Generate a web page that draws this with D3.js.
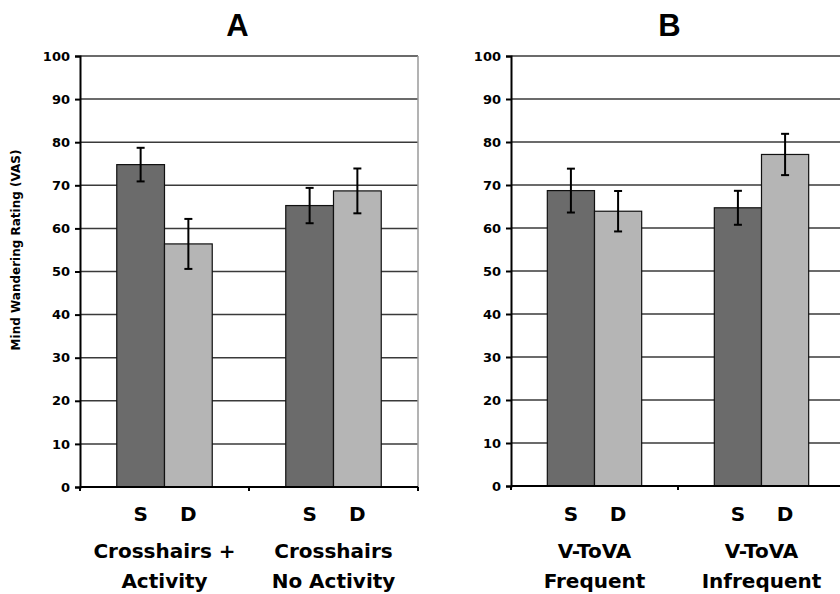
<!DOCTYPE html>
<html>
<head>
<meta charset="utf-8">
<script src="https://cdn.jsdelivr.net/npm/d3@7"></script>
<style>
  body { margin: 0; background: #fff; }
  svg { display: block; font-family: "DejaVu Sans", Arial, sans-serif; }
</style>
</head>
<body>
<svg id="chart" width="840" height="594"></svg>
<script>
// data
const groups = ["S", "D"]
const yTicks = [0, 10, 20, 30, 40, 50, 60, 70, 80, 90, 100]

const labelsA = [["Crosshairs +", "Activity"], ["Crosshairs", "No Activity"]]
const meanA_S = [74.8, 65.3]
const meanA_D = [56.4, 68.7]
const errA_S = [3.9, 4.1]
const errA_D = [5.8, 5.2]

const labelsB = [["V-ToVA", "Frequent"], ["V-ToVA", "Infrequent"]]
const meanB_S = [68.7, 64.7]
const meanB_D = [63.9, 77.1]
const errB_S = [5.1, 3.95]
const errB_D = [4.7, 4.8]

const colors = { S: "#6b6b6b", D: "#b5b5b5" }
const font = "DejaVu Sans, Arial, sans-serif"

const svg = d3.select("#chart")

function drawPanel(opts) {
    const g = svg.append("g")
    const y = d3.scaleLinear().domain([0, 100]).range([opts.bottom, 56])
    const keys = opts.labels.map((d, i) => i)
    const x0 = d3.scaleBand().domain(keys).range([opts.left, opts.right])
    const x1 = d3.scaleBand().domain(groups).range([0, x0.bandwidth()]).paddingOuter(0.77)

    // gridlines
    g.append("g")
        .selectAll("line")
        .data(yTicks.filter(t => t > 0))
        .join("line")
        .attr("x1", opts.left).attr("x2", opts.right)
        .attr("y1", d => y(d)).attr("y2", d => y(d))
        .attr("stroke", "#3a3a3a")
        .attr("stroke-width", 1.5)

    // right border of plot
    g.append("line")
        .attr("x1", opts.right).attr("x2", opts.right)
        .attr("y1", y(100)).attr("y2", y(0))
        .attr("stroke", "#9a9a9a").attr("stroke-width", 1.5)

    const rows = keys.map(i => ({
        i: i,
        vals: [
            { k: "S", v: opts.s[i], e: opts.es[i] },
            { k: "D", v: opts.d[i], e: opts.ed[i] }
        ]
    }))

    const grp = g.selectAll("g.grp")
        .data(rows)
        .join("g")
        .attr("class", "grp")
        .attr("transform", d => `translate(${x0(d.i)},0)`)

    grp.selectAll("rect")
        .data(d => d.vals)
        .join("rect")
        .attr("x", d => x1(d.k))
        .attr("y", d => y(d.v))
        .attr("width", x1.bandwidth())
        .attr("height", d => y(0) - y(d.v))
        .attr("fill", d => colors[d.k])
        .attr("stroke", "#111")
        .attr("stroke-width", 1.2)

    // error bars
    const eb = grp.selectAll("g.err")
        .data(d => d.vals)
        .join("g")
        .attr("class", "err")
        .attr("stroke", "#000")
        .attr("stroke-width", 2)
    eb.append("line")
        .attr("x1", d => x1(d.k) + x1.bandwidth() / 2)
        .attr("x2", d => x1(d.k) + x1.bandwidth() / 2)
        .attr("y1", d => y(d.v + d.e))
        .attr("y2", d => y(d.v - d.e))
    eb.selectAll("line.cap")
        .data(d => [d.v + d.e, d.v - d.e].map(v => ({ k: d.k, v: v })))
        .join("line")
        .attr("class", "cap")
        .attr("x1", d => x1(d.k) + x1.bandwidth() / 2 - 4)
        .attr("x2", d => x1(d.k) + x1.bandwidth() / 2 + 4)
        .attr("y1", d => y(d.v))
        .attr("y2", d => y(d.v))

    // S / D labels
    grp.selectAll("text.sd")
        .data(d => d.vals)
        .join("text")
        .attr("class", "sd")
        .attr("x", d => x1(d.k) + x1.bandwidth() / 2)
        .attr("y", 521)
        .attr("text-anchor", "middle")
        .attr("font-size", 20)
        .attr("font-weight", "bold")
        .text(d => d.k)

    // category labels
    grp.append("text")
        .attr("x", x0.bandwidth() / 2)
        .attr("text-anchor", "middle")
        .attr("font-size", 20)
        .attr("font-weight", "bold")
        .selectAll("tspan")
        .data(d => opts.labels[d.i])
        .join("tspan")
        .attr("x", x0.bandwidth() / 2)
        .attr("y", (d, j) => 558 + j * 30)
        .text(d => d)

    // y axis
    const yAxis = g.append("g")
        .attr("transform", `translate(${opts.left},0)`)
        .call(d3.axisLeft(y).tickValues(yTicks).tickSize(5).tickPadding(5))
    yAxis.attr("font-size", 13).attr("font-family", font).attr("font-weight", "bold")
    yAxis.select(".domain").attr("stroke", "#000").attr("stroke-width", 2)
    yAxis.selectAll(".tick line").attr("stroke", "#000").attr("stroke-width", 2)
    yAxis.selectAll(".tick text").attr("fill", "#000")

    // x axis
    const xAxis = g.append("g")
        .attr("transform", `translate(0,${opts.bottom})`)
    xAxis.append("line")
        .attr("x1", opts.left).attr("x2", opts.right)
        .attr("stroke", "#000").attr("stroke-width", 2)
    xAxis.selectAll("line.tk")
        .data(keys.concat([keys.length]))
        .join("line")
        .attr("class", "tk")
        .attr("x1", d => opts.left + d * x0.bandwidth())
        .attr("x2", d => opts.left + d * x0.bandwidth())
        .attr("y1", 0).attr("y2", 4)
        .attr("stroke", "#000").attr("stroke-width", 2)

    // panel title
    svg.append("text")
        .attr("x", opts.titleX)
        .attr("y", 36)
        .attr("text-anchor", "middle")
        .attr("font-size", 31)
        .attr("font-weight", "bold")
        .attr("font-family", "Liberation Sans, Arial, sans-serif")
        .text(opts.title)
}

drawPanel({ left: 80, right: 418, bottom: 487, labels: labelsA,
    s: meanA_S, d: meanA_D, es: errA_S, ed: errA_D, title: "A", titleX: 237.5 })
drawPanel({ left: 511, right: 845, bottom: 486, labels: labelsB,
    s: meanB_S, d: meanB_D, es: errB_S, ed: errB_D, title: "B", titleX: 669.5 })

svg.append("text")
    .attr("transform", "translate(20,250) rotate(-90)")
    .attr("text-anchor", "middle")
    .attr("font-size", 12)
    .attr("font-weight", "bold")
    .text("Mind Wandering Rating (VAS)")
</script>
</body>
</html>
